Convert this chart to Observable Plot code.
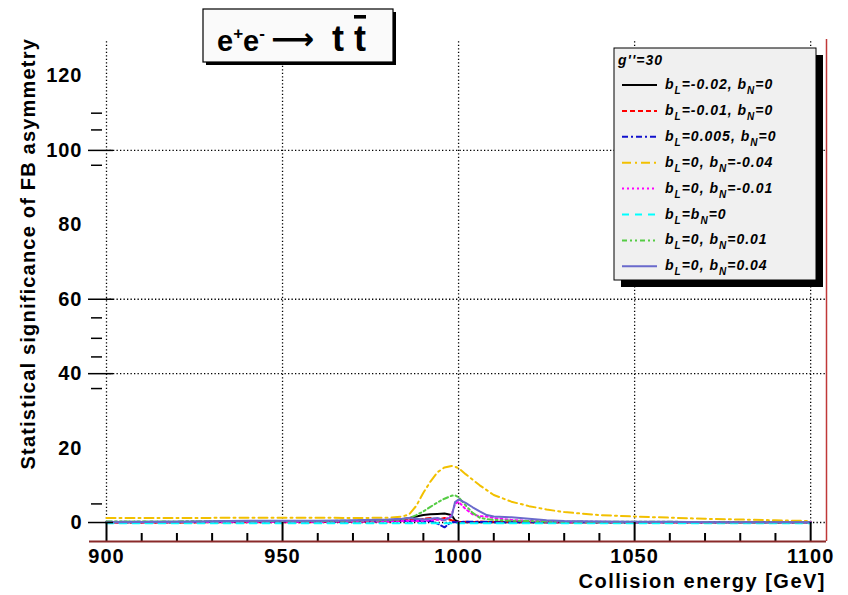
<!DOCTYPE html>
<html>
<head>
<meta charset="utf-8">
<script src="https://cdn.jsdelivr.net/npm/d3@7"></script>
<script src="https://cdn.jsdelivr.net/npm/@observablehq/plot@0.6"></script>
<style>
  html, body { margin: 0; padding: 0; background: #fff; }
  #chart { width: 848px; height: 595px; position: relative; }
</style>
</head>
<body>
<div id="chart"></div>
<script>
// ---- data ----
const energy = [900, 920, 940, 960, 970, 980, 984, 986, 988, 990, 992, 994, 996, 998, 999, 1000,
                1002, 1004, 1006, 1008, 1010, 1015, 1020, 1025, 1030, 1040, 1050, 1060, 1070, 1080, 1090, 1100];

const sigBlack   = [0.1,0.1,0.3,0.3,0.4,0.6,0.9,1.2,1.6,2.0,2.2,2.3,2.4,2.0,0.6,0.2,
                    0.1,0.1,0.1,0.1,0.1,0.1,0.1,0.1,0.1,0.1,0.1,0.1,0.1,0.1,0.1,0.1];
const sigRed     = [0.0,0.0,0.1,0.1,0.2,0.3,0.4,0.9,0.5,1.0,1.2,0.8,1.2,0.6,0.3,0.1,
                    0.2,0.1,0.3,0.1,0.2,0.1,0.1,0.1,0.1,0.1,0.1,0.1,0.1,0.1,0.1,0.1];
const sigBlue    = [0.2,0.2,0.3,0.3,0.3,0.4,0.5,0.3,0.6,0.2,0.4,-0.3,-1.3,0.2,0.1,0.1,
                    0.2,0.2,0.1,0.2,0.1,0.1,0.1,0.1,0.1,0.1,0.1,0.1,0.1,0.1,0.1,0.1];
const sigYellow  = [1.2,1.2,1.3,1.3,1.2,1.3,1.6,2.2,4.5,8.0,11.0,13.5,14.8,15.2,15.0,14.6,
                    13.0,11.5,10.0,8.7,7.4,5.6,4.4,3.5,2.8,2.0,1.6,1.3,1.0,0.8,0.6,0.4];
const sigMagenta = [0.1,0.1,0.2,0.2,0.3,0.3,0.4,0.5,0.4,0.5,0.6,0.8,0.6,2.0,5.0,5.6,
                    3.6,2.2,1.7,1.6,1.2,0.7,0.4,0.3,0.2,0.2,0.1,0.1,0.1,0.1,0.1,0.1];
const sigCyan    = [-0.2,-0.2,-0.2,-0.2,-0.2,-0.2,-0.2,-0.2,-0.2,-0.2,-0.2,-0.2,-0.2,-0.2,-0.2,-0.2,
                    -0.2,-0.2,-0.2,-0.2,-0.2,-0.2,-0.2,-0.2,-0.2,-0.2,-0.2,-0.2,-0.2,-0.2,-0.2,-0.2];
const sigGreen   = [0.3,0.3,0.4,0.4,0.5,0.6,0.9,1.2,2.0,3.0,4.2,5.4,6.4,7.2,7.3,6.8,
                    4.6,2.6,1.3,0.9,0.7,0.5,0.4,0.3,0.3,0.2,0.2,0.2,0.1,0.1,0.1,0.1];
const sigSlate   = [0.1,0.2,0.5,0.5,0.6,0.8,1.0,1.2,1.0,0.8,1.0,1.2,0.6,1.5,5.5,6.2,
                    5.3,4.1,3.0,2.0,1.6,1.4,1.0,0.6,0.4,0.3,0.2,0.2,0.1,0.1,0.1,0.1];

const seriesLabels = ["b_L=-0.02, b_N=0", "b_L=-0.01, b_N=0", "b_L=0.005, b_N=0", "b_L=0, b_N=-0.04",
                      "b_L=0, b_N=-0.01", "b_L=b_N=0", "b_L=0, b_N=0.01", "b_L=0, b_N=0.04"];
const seriesValues = [sigBlack, sigRed, sigBlue, sigYellow, sigMagenta, sigCyan, sigGreen, sigSlate];
const legendHeader = "g''=30";

const xTicks = [900, 950, 1000, 1050, 1100];
const xMinor = [910, 920, 930, 940, 960, 970, 980, 990, 1010, 1020, 1030, 1040, 1060, 1070, 1080, 1090];
const yTicks = [0, 20, 40, 60, 80, 100, 120];
const yMajorMarks = [0, 40, 60, 100];
const yMinorMarks = [5, 36, 44.5, 49.5, 55, 96, 105.5, 110];

// ---- styles ----
const seriesColors = ["#000000", "#ff0000", "#1010cc", "#f2c000", "#ff00ff", "#00ffff", "#55cc44", "#6a6acc"];
const seriesDash = ["none", "5,3", "6,3,2,3", "9,4,2,4", "2,3", "7,6", "5,3,2,3,2,3", "none"];

const xDomain = [900, 1104.5];
const yDomain = [-5.1, 129.8];
const W = 848, H = 595;
const mL = 106, mR = 22, mT = 39, mB = 54;
const pxPerX = (W - mL - mR) / (xDomain[1] - xDomain[0]);
const pxPerY = (H - mT - mB) / (yDomain[1] - yDomain[0]);
const font = "'Liberation Sans', Arial, sans-serif";

const lineMarks = seriesValues.map((vals, i) =>
  Plot.line(energy.map((e, j) => ({e, v: vals[j]})), {
    x: "e", y: "v", stroke: seriesColors[i], strokeWidth: 2,
    strokeDasharray: seriesDash[i] === "none" ? null : seriesDash[i]
  })
);

const chart = Plot.plot({
  width: W, height: H,
  marginLeft: mL, marginRight: mR, marginTop: mT, marginBottom: mB,
  style: {fontFamily: font, fontSize: "20px", fontWeight: "bold", color: "#000", background: "#fff", overflow: "visible"},
  x: {domain: xDomain},
  y: {domain: yDomain},
  marks: [
    // grid
    Plot.ruleX(xTicks, {y1: 0, y2: yDomain[1], stroke: "#000", strokeWidth: 1.3, strokeDasharray: "1.3,2.2"}),
    Plot.ruleY(yMajorMarks, {x1: xDomain[0], x2: xDomain[1], stroke: "#000", strokeWidth: 1.3, strokeDasharray: "1.3,2.2"}),
    // data
    ...lineMarks,
    // x ticks
    Plot.ruleX(xTicks, {y1: yDomain[0], y2: 0, stroke: "#000", strokeWidth: 2}),
    Plot.ruleX(xMinor, {y1: yDomain[0], y2: yDomain[0] + 8 / pxPerY, stroke: "#000", strokeWidth: 2}),
    // y ticks
    Plot.ruleY(yMajorMarks, {x1: xDomain[0] - 18 / pxPerX, x2: xDomain[0] + 7 / pxPerX, stroke: "#000", strokeWidth: 1.5}),
    Plot.ruleY(yMinorMarks, {x1: xDomain[0] - 15 / pxPerX, x2: xDomain[0] - 4 / pxPerX, stroke: "#000", strokeWidth: 1.5}),
    // frame
    Plot.ruleY([yDomain[0]], {x1: xDomain[0] - 17 / pxPerX, x2: xDomain[1], stroke: "#8a2a2a", strokeWidth: 2}),
    Plot.ruleX([xDomain[1]], {y1: yDomain[0], y2: yDomain[1], stroke: "#c03838", strokeWidth: 1.5}),
    // axes
    Plot.axisX(xTicks, {tickSize: 0, tickPadding: 7, tickFormat: d => String(d), label: null}),
    Plot.axisY(yTicks, {tickSize: 0, tickPadding: 24, tickFormat: d => String(d), label: null})
  ]
});
document.getElementById("chart").appendChild(chart);
d3.select(chart).selectAll("[aria-label$='tick label'] text").attr("letter-spacing", 1);

// ---- decorations ----
const svg = d3.select(chart);

// axis titles
svg.append("text")
  .attr("transform", "translate(35,38) rotate(-90)")
  .attr("text-anchor", "end")
  .attr("font-family", font).attr("font-size", 20).attr("font-weight", "bold")
  .attr("letter-spacing", 1.2).attr("fill", "#000")
  .text("Statistical significance of FB asymmetry");
svg.append("text")
  .attr("x", 826).attr("y", 588)
  .attr("text-anchor", "end")
  .attr("font-family", font).attr("font-size", 20).attr("font-weight", "bold")
  .attr("letter-spacing", 1.5).attr("fill", "#000")
  .text("Collision energy [GeV]");

// title box
const tg = svg.append("g").attr("text-anchor", "start");
tg.append("rect").attr("x", 206).attr("y", 12).attr("width", 190).attr("height", 53).attr("fill", "#000");
tg.append("rect").attr("x", 203).attr("y", 9).attr("width", 190).attr("height", 53)
  .attr("fill", "#fafafa").attr("stroke", "#000").attr("stroke-width", 1.2);
const tLeft = tg.append("text").attr("x", 217).attr("y", 51).attr("text-anchor", "start")
  .attr("font-family", font).attr("font-size", 29).attr("font-weight", "bold").attr("fill", "#000");
tLeft.append("tspan").text("e");
tLeft.append("tspan").attr("dy", -12).attr("font-size", 17).text("+");
tLeft.append("tspan").attr("dy", 12).text("e");
tLeft.append("tspan").attr("dy", -12).attr("font-size", 17).text("-");
tg.append("text").attr("x", 271).attr("y", 49).attr("text-anchor", "start")
  .attr("font-family", "'DejaVu Sans', sans-serif").attr("font-size", 30).attr("fill", "#000")
  .text("\u27F6");
const tRight = tg.append("text").attr("x", 332).attr("y", 51).attr("text-anchor", "start")
  .attr("font-family", font).attr("font-size", 36).attr("font-weight", "bold").attr("fill", "#000");
tRight.append("tspan").text("t");
tRight.append("tspan").attr("x", 354).attr("text-decoration", "overline").text("t");

// legend
const lg = svg.append("g").attr("text-anchor", "start");
const lx = 614, ly = 48, lw = 202, lh = 232;
lg.append("rect").attr("x", lx + 7).attr("y", ly + 7).attr("width", lw).attr("height", lh).attr("fill", "#000");
lg.append("rect").attr("x", lx).attr("y", ly).attr("width", lw).attr("height", lh)
  .attr("fill", "#f0f0f0").attr("stroke", "#000").attr("stroke-width", 1);
lg.append("text").attr("x", lx + 4).attr("y", ly + 17).attr("text-anchor", "start")
  .attr("font-family", font).attr("font-style", "italic").attr("font-weight", "bold")
  .attr("font-size", 14).attr("letter-spacing", 1).attr("fill", "#000")
  .text(legendHeader);

function addLabel(sel, str) {
  let buf = "", pendingDy = 0;
  const flush = () => {
    if (buf) {
      const t = sel.append("tspan").text(buf);
      if (pendingDy) t.attr("dy", pendingDy);
      pendingDy = 0;
      buf = "";
    }
  };
  for (let i = 0; i < str.length; i++) {
    if (str[i] === "_") {
      flush();
      sel.append("tspan").attr("dy", 5 + pendingDy).attr("font-size", 10).text(str[i + 1]);
      pendingDy = -5;
      i++;
    } else buf += str[i];
  }
  flush();
}

seriesLabels.forEach((lab, i) => {
  const yy = 85 + i * 25.9;
  lg.append("line").attr("x1", 622).attr("x2", 657).attr("y1", yy).attr("y2", yy)
    .attr("stroke", seriesColors[i]).attr("stroke-width", 2)
    .attr("stroke-dasharray", seriesDash[i] === "none" ? null : seriesDash[i]);
  const t = lg.append("text").attr("x", 665).attr("y", yy + 4).attr("text-anchor", "start")
    .attr("font-family", font).attr("font-style", "italic").attr("font-weight", "bold")
    .attr("font-size", 14).attr("letter-spacing", 1).attr("fill", "#000");
  addLabel(t, lab);
});
</script>
</body>
</html>
